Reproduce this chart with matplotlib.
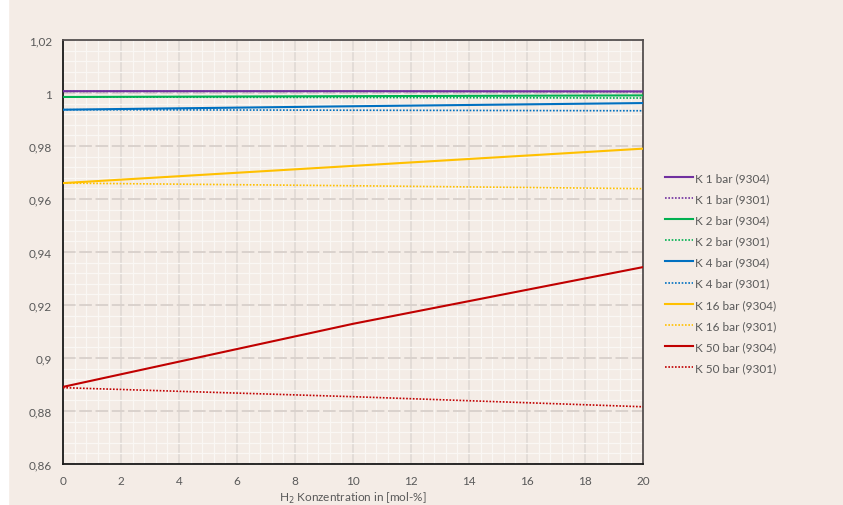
import matplotlib.pyplot as plt
from matplotlib.patches import Rectangle
from matplotlib.ticker import MultipleLocator, FuncFormatter

# --- data ---
x_h2 = [0, 10, 20]

k1_9304 = [1.0007, 1.0007, 1.0006]
k1_9301 = [1.0006, 1.0006, 1.0005]
k2_9304 = [0.9985, 0.9988, 0.9991]
k2_9301 = [0.9985, 0.9983, 0.9981]
k4_9304 = [0.9937, 0.9950, 0.9962]
k4_9301 = [0.9937, 0.9935, 0.9933]
k16_9304 = [0.9660, 0.9725, 0.9790]
k16_9301 = [0.9660, 0.9650, 0.9639]
k50_9304 = [0.8891, 0.9129, 0.9343]
k50_9301 = [0.8888, 0.8854, 0.8816]

labels = ["K 1 bar (9304)", "K 1 bar (9301)", "K 2 bar (9304)", "K 2 bar (9301)",
          "K 4 bar (9304)", "K 4 bar (9301)", "K 16 bar (9304)", "K 16 bar (9301)",
          "K 50 bar (9304)", "K 50 bar (9301)"]
series = [k1_9304, k1_9301, k2_9304, k2_9301, k4_9304, k4_9301,
          k16_9304, k16_9301, k50_9304, k50_9301]
colors = ["#7030A0", "#7030A0", "#00B050", "#00B050", "#0070C0", "#0070C0",
          "#FFC000", "#FFC000", "#C00000", "#C00000"]

BG = "#F4ECE6"
TXT = "#595959"

plt.rcParams["font.family"] = ["Lato", "DejaVu Sans"]

fig = plt.figure(figsize=(8.43, 5.06), dpi=100, facecolor=BG)
fig.patches.append(Rectangle((0, 0), 8 / 843, 1, transform=fig.transFigure,
                             color="white", zorder=-1))
ax = fig.add_axes([63 / 843, 1 - 465 / 506, 580 / 843, 424 / 506])
ax.set_facecolor(BG)

for i, (lab, vals, c) in enumerate(zip(labels, series, colors)):
    ls = "-" if i % 2 == 0 else (0, (1, 1))
    lw = 1.5 if i % 2 == 0 else 1.2
    ax.plot(x_h2, vals, color=c, lw=lw, ls=ls, label=lab, zorder=3)

ax.set_xlim(0, 20)
ax.set_ylim(0.86, 1.02)
ax.xaxis.set_major_locator(MultipleLocator(2))
ax.xaxis.set_minor_locator(MultipleLocator(0.4))
ax.yaxis.set_major_locator(MultipleLocator(0.02))
ax.yaxis.set_minor_locator(MultipleLocator(0.004))
ax.yaxis.set_major_formatter(FuncFormatter(lambda v, p: f"{v:g}".replace(".", ",") if abs(v - 1) > 1e-9 else "1"))

ax.grid(which="minor", color="#FAF7F4", lw=0.9, zorder=0)
ax.grid(which="major", axis="x", color="#E2DBD6", lw=1.3, zorder=1)
ax.grid(which="major", axis="y", color="#D8D0CB", lw=1.3, ls=(0, (7, 2)), zorder=1)

ax.tick_params(which="both", length=0, colors=TXT, labelsize=8.5, pad=8)
for s in ["left", "bottom"]:
    ax.spines[s].set_color("#1a1a1a")
    ax.spines[s].set_linewidth(1.3)
for s in ["top", "right"]:
    ax.spines[s].set_color("#555050")
    ax.spines[s].set_linewidth(1.3)

ax.set_xlabel("H$_2$ Konzentration in [mol-%]", color=TXT, fontsize=8.5, labelpad=3)

ax.legend(loc="upper left", bbox_to_anchor=(1.03, 0.7), frameon=False,
          fontsize=8.5, labelcolor=TXT, handlelength=2.4, handletextpad=0.15,
          labelspacing=0.86, borderaxespad=0)

fig.savefig("out.png", dpi=100, facecolor=BG)
